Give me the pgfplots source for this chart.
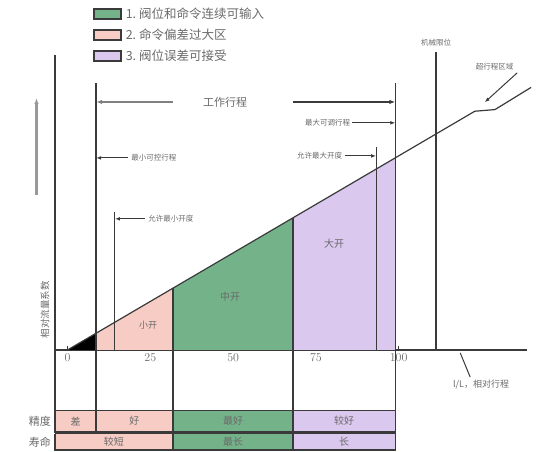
\documentclass[border=0pt]{standalone}
\usepackage{fontspec}
\setmainfont{Noto Sans CJK SC}
\usepackage{pgfplots}
\pgfplotsset{compat=1.18}
\usetikzlibrary{arrows.meta}
\definecolor{pinkz}{HTML}{F6CCC4}
\definecolor{greenz}{HTML}{74B38A}
\definecolor{purplez}{HTML}{DAC8EE}
\definecolor{ink}{HTML}{3A3A3A}
\definecolor{txt}{HTML}{6A6A6A}
\newcommand{\fs}[1]{\fontsize{#1}{#1}\selectfont}

\begin{document}
\begin{tikzpicture}
\begin{axis}[
  x=3.31pt, y=3.31pt,
  xmin=-3.8, xmax=138.8, ymin=0, ymax=89.1,
  axis lines=left,
  axis line style={ink, line width=1.4pt, -},
  xtick={0,25,50,75,100},
  ytick=\empty,
  tick align=inside,
  major tick length=4pt,
  tick style={ink, line width=0.8pt},
  xticklabel style={font=\fs{13}, text=txt},
  clip=false,
  legend image code/.code={\draw[#1] (0pt,-5pt) rectangle (27pt,5pt);},
  legend style={at={(axis cs:7.7,104.0)}, anchor=north west, draw=none, fill=none,
    font=\fs{12.5}, text=txt, row sep=5pt, inner sep=0pt, nodes={inner xsep=4pt}},
  legend cell align=left,
]
% legend
\addlegendimage{fill=greenz, draw=ink, line width=1.5pt}
\addlegendimage{fill=pinkz, draw=ink, line width=1.5pt}
\addlegendimage{fill=purplez, draw=ink, line width=1.5pt}
\legend{1.\ 阀位和命令连续可输入, 2.\ 命令偏差过大区, 3.\ 阀位误差可接受}

% bounding box of the whole canvas
\path (axis cs:-20.42,-30.7) rectangle (axis cs:143.9,105.7);

% regions under the characteristic
\addplot[fill=black, draw=none] coordinates {(0,0) (8.6,0) (8.6,5.04)};
\addplot[fill=pinkz, draw=none] coordinates {(8.6,0) (31.8,0) (31.8,18.6) (8.6,5.04)};
\addplot[fill=greenz, draw=none] coordinates {(31.8,0) (68.1,0) (68.1,39.9) (31.8,18.6)};
\addplot[fill=purplez, draw=none] coordinates {(68.1,0) (99.0,0) (99.0,58.0) (68.1,39.9)};

% characteristic line with break
\addplot[ink, line width=1.2pt] coordinates {(0,0) (123.0,72.1) (129.1,72.6) (140.0,79.3)};

% vertical lines
\addplot[ink, line width=1.3pt] coordinates {(-3.8,0) (-3.8,-18.3)};
\addplot[ink, line width=1.3pt] coordinates {(8.6,-18.3) (8.6,80.7)};
\addplot[ink, line width=1.1pt] coordinates {(14.3,0) (14.3,41.7)};
\addplot[ink, line width=1.3pt] coordinates {(31.8,-18.3) (31.8,18.6)};
\addplot[ink, line width=1.3pt] coordinates {(68.1,-18.3) (68.1,39.9)};
\addplot[ink, line width=1.1pt] coordinates {(93.2,0) (93.2,61.3)};
\addplot[ink, line width=1.3pt] coordinates {(99.0,-18.3) (99.0,80.7)};
\addplot[ink, line width=1.3pt] coordinates {(111.3,0) (111.3,90.0)};

% arrows
\addplot[gray, line width=2.4pt, -{Latex[length=6pt]}] coordinates {(31.9,74.9) (8.6,74.9)};
\addplot[ink, line width=1.2pt, -{Latex[length=6pt]}] coordinates {(68.1,74.9) (99.0,74.9)};
\addplot[ink, line width=1.1pt, -{Latex[length=5pt]}] coordinates {(18.2,58.0) (8.6,58.0)};
\addplot[ink, line width=1.1pt, -{Latex[length=5pt]}] coordinates {(23.4,39.6) (14.3,39.6)};
\addplot[ink, line width=1.1pt, -{Latex[length=5pt]}] coordinates {(86.0,68.6) (99.0,68.6)};
\addplot[ink, line width=1.1pt, -{Latex[length=5pt]}] coordinates {(83.8,58.6) (93.2,58.6)};
\addplot[ink, line width=1.0pt, -{Latex[length=5pt]}] coordinates {(135.8,83.7) (126.0,74.8)};
\addplot[ink, line width=1.0pt] coordinates {(118.6,-0.9) (121.6,-8.2)};
\addplot[gray!80, line width=2.4pt, -{Latex[length=6pt]}] coordinates {(-9.4,46.8) (-9.4,76.1)};

% table
\addplot[fill=pinkz, draw=ink, line width=1.5pt] coordinates {(-3.8,-18.3) (8.6,-18.3) (8.6,-24.8) (-3.8,-24.8) (-3.8,-18.3)};
\addplot[fill=pinkz, draw=ink, line width=1.5pt] coordinates {(8.6,-18.3) (31.8,-18.3) (31.8,-24.8) (8.6,-24.8) (8.6,-18.3)};
\addplot[fill=greenz, draw=ink, line width=1.5pt] coordinates {(31.8,-18.3) (68.1,-18.3) (68.1,-24.8) (31.8,-24.8) (31.8,-18.3)};
\addplot[fill=purplez, draw=ink, line width=1.5pt] coordinates {(68.1,-18.3) (99.0,-18.3) (99.0,-24.8) (68.1,-24.8) (68.1,-18.3)};
\addplot[fill=pinkz, draw=ink, line width=1.5pt] coordinates {(-3.8,-25.3) (31.8,-25.3) (31.8,-30.3) (-3.8,-30.3) (-3.8,-25.3)};
\addplot[fill=greenz, draw=ink, line width=1.5pt] coordinates {(31.8,-25.3) (68.1,-25.3) (68.1,-30.3) (31.8,-30.3) (31.8,-25.3)};
\addplot[fill=purplez, draw=ink, line width=1.5pt] coordinates {(68.1,-25.3) (99.0,-25.3) (99.0,-30.3) (68.1,-30.3) (68.1,-25.3)};

% texts
\begin{scope}[every node/.style={text=txt, inner sep=0pt}]
\node[font=\fs{11}] at (axis cs:47.6,74.9) {工作行程};
\node[font=\fs{7.5}, anchor=west] at (axis cs:19.2,58.0) {最小可控行程};
\node[font=\fs{7.5}, anchor=west] at (axis cs:24.3,39.6) {允许最小开度};
\node[font=\fs{7.5}, anchor=east] at (axis cs:85.4,68.6) {最大可调行程};
\node[font=\fs{7.5}, anchor=east] at (axis cs:83.0,58.6) {允许最大开度};
\node[font=\fs{7.5}] at (axis cs:111.3,92.7) {机械限位};
\node[font=\fs{7.5}] at (axis cs:129.0,85.7) {超行程区域};
\node[font=\fs{9}] at (axis cs:124.9,-10.6) {l/L，相对行程};
\node[font=\fs{9.5}, rotate=90] at (axis cs:-6.8,12.1) {相对流量系数};
\node[font=\fs{9}] at (axis cs:24.3,7.6) {小开};
\node[font=\fs{10}] at (axis cs:49.1,16.0) {中开};
\node[font=\fs{10}] at (axis cs:80.5,32.0) {大开};
\node[font=\fs{10}] at (axis cs:2.4,-21.5) {差};
\node[font=\fs{10}] at (axis cs:20.2,-21.5) {好};
\node[font=\fs{10}] at (axis cs:50.0,-21.5) {最好};
\node[font=\fs{10}] at (axis cs:83.5,-21.5) {较好};
\node[font=\fs{10}] at (axis cs:14.0,-27.8) {较短};
\node[font=\fs{10}] at (axis cs:50.0,-27.8) {最长};
\node[font=\fs{10}] at (axis cs:83.5,-27.8) {长};
\node[font=\fs{11}, anchor=east] at (axis cs:-5.0,-21.5) {精度};
\node[font=\fs{11}, anchor=east] at (axis cs:-5.0,-27.8) {寿命};
\end{scope}
\end{axis}
\end{tikzpicture}
\end{document}
